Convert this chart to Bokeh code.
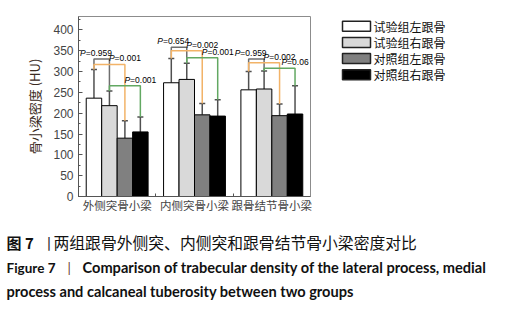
from bokeh.plotting import figure
from bokeh.layouts import column, row
from bokeh.models import Range1d, FixedTicker, ColumnDataSource, Whisker, TeeHead
from bokeh.core.properties import value
from bokeh.embed import file_html
from bokeh.resources import INLINE

# ---------------- data ----------------
categories = ["外侧突骨小梁", "内侧突骨小梁", "跟骨结节骨小梁"]
series_names = ["试验组左跟骨", "试验组右跟骨", "对照组左跟骨", "对照组右跟骨"]
exp_left = [236, 273, 256]
exp_right = [218, 281, 258]
ctl_left = [140, 196, 194]
ctl_right = [155, 193, 198]
exp_left_sd = [69, 58, 44]
exp_right_sd = [35, 39, 43]
ctl_left_sd = [42, 27, 28]
ctl_right_sd = [36, 39, 68]
# comparisons: category index, series a, series b, bracket height (HU), P value
cmp_group = [0, 0, 0, 1, 1, 1, 2, 2, 2]
cmp_a = [0, 0, 1, 0, 0, 1, 0, 0, 1]
cmp_b = [1, 2, 3, 1, 2, 3, 1, 2, 3]
cmp_top = [330, 317, 266, 358, 350, 333, 330, 321, 308]
cmp_p = ["0.959", "0.001", "0.001", "0.654", "0.002", "0.001", "0.959", "0.002", "0.06"]
y_ticks = [0, 50, 100, 150, 200, 250, 300, 350, 400]
y_minor = [0, 25, 50, 75, 100, 125, 150, 175, 200, 225, 250, 275, 300, 325, 350, 375, 400, 425]
caption_cn_head = "图 7"
caption_cn_sep = "丨"
caption_cn = "两组跟骨外侧突、内侧突和跟骨结节骨小梁密度对比"
caption_en_head = "Figure 7"
caption_en_sep = "|"
caption_en_1 = "Comparison of trabecular density of the lateral process, medial"
caption_en_2 = "process and calcaneal tuberosity between two groups"

# ---------------- styles ----------------
means = [exp_left, exp_right, ctl_left, ctl_right]
sds = [exp_left_sd, exp_right_sd, ctl_left_sd, ctl_right_sd]
fills = ["#ffffff", "#d9d9d9", "#808080", "#000000"]
offsets = [-0.3, -0.1, 0.1, 0.3]
bar_w = 0.2
cjk = "Noto Sans CJK SC"
W = 511
W_MAIN = 312
H_MAIN = 220
H_CAP = 89
B_TOP = 16
B_BOTTOM = 24

p = figure(width=W_MAIN, height=H_MAIN, x_range=Range1d(0.5, 3.5), y_range=Range1d(0, 432),
           output_backend="svg", toolbar_location=None, title=None,
           min_border_left=78, min_border_right=2, min_border_top=B_TOP, min_border_bottom=B_BOTTOM)
p.xgrid.visible = False
p.ygrid.visible = False
p.outline_line_color = "#8c8c8c"
p.outline_line_width = 1
p.background_fill_color = "white"
p.border_fill_color = "white"

for i in range(4):
    xs = [g + 1 + offsets[i] for g in range(3)]
    src = ColumnDataSource(dict(x=xs, top=means[i],
                                upper=[m + s for m, s in zip(means[i], sds[i])]))
    p.vbar(x="x", top="top", width=bar_w, bottom=0, fill_color=fills[i],
           line_color="black", line_width=1, source=src)
    p.add_layout(Whisker(base="x", lower="top", upper="upper", source=src,
                         line_color="#505050", line_width=1.5,
                         upper_head=TeeHead(size=6, line_color="#505050", line_width=1.5),
                         lower_head=None))

# significance brackets
bcol = {(0, 1): "#6e6e6e", (0, 2): "#f2b368", (1, 3): "#62a862"}
bx, by, bc = [], [], []
px, py, pc_off, pt = [], [], [], []
fs = 8.5
for g, a, b, top, pv in zip(cmp_group, cmp_a, cmp_b, cmp_top, cmp_p):
    xa = g + 1 + offsets[a]
    xb = g + 1 + offsets[b]
    ya = means[a][g] + sds[a][g]
    yb = means[b][g] + sds[b][g]
    bx.append([xa, xa, xb, xb])
    by.append([ya, top, top, yb])
    bc.append(bcol[(a, b)])
    rest = "=" + pv
    w_p = 0.667 * fs
    w_rest = sum(0.584 * fs if ch == "=" else (0.278 * fs if ch == "." else 0.556 * fs) for ch in rest)
    if (a, b) == (0, 1):
        ax, extra = xa, 2
    else:
        ax, extra = xb, 0
    px.append(ax)
    py.append(top)
    pc_off.append(-(w_p + w_rest) / 2 + w_p + extra)
    pt.append(rest)

p.multi_line(xs=bx, ys=by, line_color=bc, line_width=1.5)
lsrc = ColumnDataSource(dict(x=px, y=py, off=pc_off, t=pt, pp=["P"] * len(pt)))
p.text(x="x", y="y", text="t", x_offset="off", y_offset=-1, source=lsrc,
       text_font=value("Liberation Sans"), text_font_size=value(f"{fs}px"),
       text_align="left", text_baseline="bottom", text_color="black")
p.text(x="x", y="y", text="pp", x_offset="off", y_offset=-1, source=lsrc,
       text_font=value("Liberation Sans"), text_font_size=value(f"{fs}px"),
       text_font_style="italic",
       text_align="right", text_baseline="bottom", text_color="black")

# axes
ya_ = p.yaxis[0]
ya_.ticker = FixedTicker(ticks=y_ticks, minor_ticks=y_minor)
ya_.major_tick_in = 4
ya_.major_tick_out = 0
ya_.minor_tick_in = 2
ya_.minor_tick_out = 0
ya_.axis_line_color = "#555555"
ya_.major_tick_line_color = "#555555"
ya_.minor_tick_line_color = "#555555"
ya_.major_label_text_font = "Liberation Sans"
ya_.major_label_text_font_size = "12px"
ya_.major_label_standoff = 5
ya_.axis_label = "骨小梁密度 (HU)"
ya_.axis_label_text_font = cjk
ya_.axis_label_text_font_style = "normal"
ya_.axis_label_text_font_size = "13px"
ya_.axis_label_text_color = "#3a2a22"
ya_.axis_label_standoff = 6

xa_ = p.xaxis[0]
xa_.ticker = FixedTicker(ticks=[1, 2, 3], minor_ticks=[1.5, 2.5])
xa_.major_label_overrides = {1: categories[0], 2: categories[1], 3: categories[2]}
xa_.major_tick_in = 0
xa_.major_tick_out = 0
xa_.minor_tick_in = 3
xa_.minor_tick_out = 0
xa_.axis_line_color = "#555555"
xa_.minor_tick_line_color = "#555555"
xa_.major_label_text_font = cjk
xa_.major_label_text_font_size = "11.5px"
xa_.major_label_standoff = 0

# legend panel (to the right of the chart); its frame is aligned with the chart's frame,
# so its ranges are set in pixels measured from the page top-left
LW = W - W_MAIN
lf = figure(width=LW, height=H_MAIN, x_range=Range1d(0, LW),
            y_range=Range1d(H_MAIN - B_BOTTOM, B_TOP),
            output_backend="svg", toolbar_location=None, x_axis_type=None, y_axis_type=None,
            title=None, min_border_left=0, min_border_right=0,
            min_border_top=B_TOP, min_border_bottom=B_BOTTOM)
lf.outline_line_color = None
lf.xgrid.visible = False
lf.ygrid.visible = False
leg_y0, leg_dy = 25.7, 16.2
leg_y = [leg_y0 + k * leg_dy for k in range(len(series_names))]
lf.rect(x=[44] * 4, y=leg_y, width=28, height=10, fill_color=fills,
        line_color="#222222", line_width=1.5)
lf.text(x=[61] * 4, y=leg_y, text=series_names, text_font=value(cjk),
        text_font_size=value("12px"), text_baseline="middle", text_align="left",
        text_color="#111111")

# caption figure
c = figure(width=W, height=H_CAP, x_range=Range1d(0, W), y_range=Range1d(H_CAP, 0),
           output_backend="svg", toolbar_location=None, x_axis_type=None, y_axis_type=None,
           title=None,
           min_border=0, min_border_left=0, min_border_right=0, min_border_top=0, min_border_bottom=0)
c.outline_line_color = None
c.xgrid.visible = False
c.ygrid.visible = False

def cap(text, x, y, font, size, style="normal", color="#111111"):
    c.text(x=[x], y=[y], text=[text], text_font=value(font), text_font_size=value(size),
           text_font_style=style, text_color=color, text_baseline="middle", text_align="left")

cap(caption_cn_head, 6, 22, cjk, "15px", "bold")
cap(caption_cn_sep, 41, 22, cjk, "15px", "normal", "#333333")
cap(caption_cn, 53, 22, cjk, "15.8px")
cap(caption_en_head, 6, 47, "Lato", "13.5px", "bold")
cap(caption_en_sep, 67, 47, "Lato", "13.5px", "normal", "#6a3a2a")
cap(caption_en_1, 82, 47, "Lato", "14.6px", "bold")
cap(caption_en_2, 6, 71, "Lato", "14.6px", "bold")

layout = column(row(p, lf, spacing=0), c, spacing=0)
open("out.html", "w").write(file_html(layout, INLINE))
